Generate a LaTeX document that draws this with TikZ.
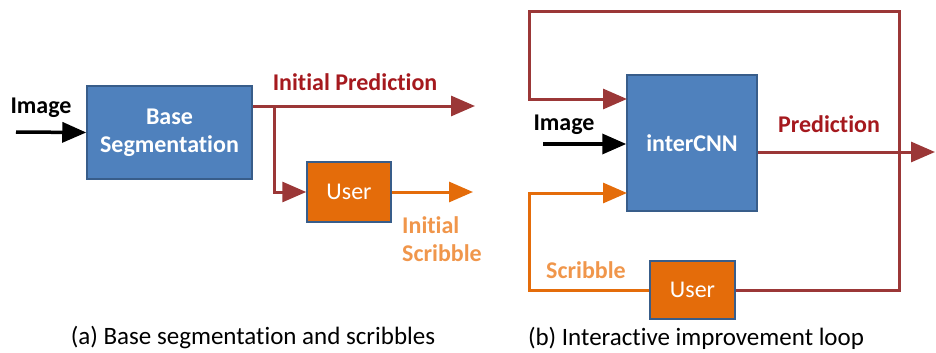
\documentclass[tikz,border=0pt]{standalone}
\usepackage{fontspec}
\setmainfont[Ligatures={NoCommon}]{Carlito}
\usetikzlibrary{positioning, arrows.meta, calc}
\definecolor{segblue}{RGB}{79, 129, 189}
\definecolor{segedge}{RGB}{56, 93, 138}
\definecolor{userorange}{RGB}{228, 108, 10}
\definecolor{predred}{RGB}{155, 55, 55}
\definecolor{predtext}{RGB}{165, 25, 30}
\definecolor{scribtext}{RGB}{240, 150, 75}

\begin{document}
\begin{tikzpicture}[
    x=1pt, y=-1pt,
    block/.style={
      draw=segedge, fill=segblue, line width=1.5pt, align=center,
      text=white, font=\fontsize{24}{28}\selectfont\bfseries
    },
    userbox/.style={
      draw=segedge, fill=userorange, line width=1.5pt,
      text=white, font=\fontsize{24}{28}\selectfont
    },
    flow/.style={line width=3pt, -{Triangle[length=24pt, width=20pt]}},
    imgflow/.style={flow, black, line width=3.5pt},
    predflow/.style={flow, predred},
    scribflow/.style={flow, userorange},
    lbl/.style={font=\fontsize{24}{28}\selectfont\bfseries, inner sep=0pt},
    caption/.style={font=\fontsize{25}{29}\selectfont, inner sep=0pt},
    node distance=0.8cm,
]
    \useasboundingbox (0,0) rectangle (936,353);

    % (a) base segmentation
    \node[block, minimum width=165, minimum height=93] (base) at (169.5,132.5)
      {Base\\Segmentation};
    \node[userbox, minimum width=84, minimum height=60] (userA) at (349,192) {User};

    \coordinate (imgA) at (16,132);
    \coordinate (predA) at (475,106);
    \coordinate (split) at (274,106);
    \coordinate (scribA) at (473,192);

    \draw[imgflow] (imgA) -- (base.west);
    \draw[predflow] (base.east |- predA) -- (predA);
    \draw[predflow] (split) |- (userA.west);
    \draw[scribflow] (userA.east) -- (scribA);

    % Labels
    \node[lbl] (imgtxtA) at (41,108) {Image};
    \node[lbl, predtext] (predtxtA) at (355,82) {Initial Prediction};
    \node[lbl, scribtext, align=left, anchor=west] (scribtxtA) at (402,239)
      {Initial\\Scribble};

    % (b) interactive loop
    \node[block, minimum width=130, minimum height=136] (cnn) at (692,143) {interCNN};
    \node[userbox, minimum width=85, minimum height=58] (userB) at (692.5,290) {User};

    \coordinate (imgB) at (543,144);
    \coordinate (predB) at (935,152);
    \coordinate (topR) at (899,12);
    \coordinate (topL) at (529,12);
    \coordinate (fbIn) at (627,99);
    \coordinate (scrL) at (529,193);
    \coordinate (scrIn) at (627,193);

    \draw[imgflow] (imgB) -- (cnn.west |- imgB);
    \draw[predflow] (cnn.east |- predB) -- (predB);
    \draw[predflow] (userB.east) -| (topR) -- (topL) |- (fbIn);
    \draw[scribflow] (userB.west) -| (scrL) -- (scrIn);

    % Labels
    \node[lbl] (imgtxtB) at (564,125) {Image};
    \node[lbl, predtext] (predtxtB) at (829,124) {Prediction};
    \node[lbl, scribtext] (scribtxtB) at (586,270) {Scribble};

    % Captions
    \node[caption] (capA) at (253,338) {(a) Base segmentation and scribbles};
    \node[caption] (capB) at (696,338) {(b) Interactive improvement loop};
\end{tikzpicture}
\end{document}
